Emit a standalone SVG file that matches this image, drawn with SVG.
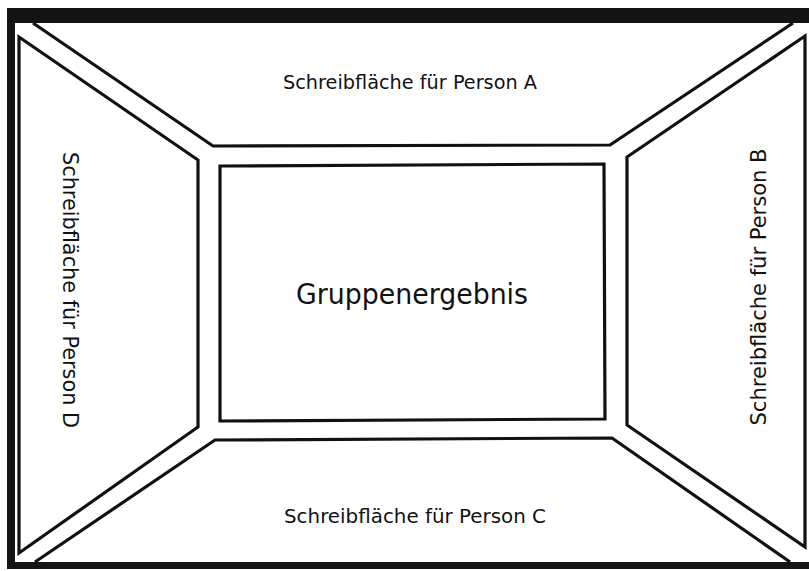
<svg xmlns="http://www.w3.org/2000/svg" width="809" height="571" viewBox="0 0 809 571">
<style>
.area{fill:#fff;stroke:#111;stroke-width:3.2;stroke-linejoin:miter}
.lbl{font-family:"DejaVu Sans","Liberation Sans",sans-serif;font-size:19px;fill:#111;text-anchor:middle}
.big{font-size:28px}
</style>
<rect x="0" y="0" width="809" height="571" fill="#fff"/>
<g id="frame">
<path d="M7,8H809V23H15V562H809V569H7Z" fill="#141414"/>
</g>
<g id="person-a">
<polyline class="area" points="33,23 213,146 610,145 793,23"/>
<text class="lbl" x="410" y="89" textLength="254" lengthAdjust="spacingAndGlyphs">Schreibfläche für Person A</text>
</g>
<g id="person-b">
<polygon class="area" points="805,36 627,157 627,425 805,547"/>
<text class="lbl" transform="translate(766,287) rotate(-90)" style="font-size:20.5px" textLength="277" lengthAdjust="spacingAndGlyphs">Schreibfläche für Person B</text>
</g>
<g id="person-c">
<polyline class="area" points="35,562 215,440 612,438 790,562"/>
<text class="lbl" x="415" y="523" textLength="262" lengthAdjust="spacingAndGlyphs">Schreibfläche für Person C</text>
</g>
<g id="person-d">
<polygon class="area" points="19,37 198,160 198,427 19,553"/>
<text class="lbl" transform="translate(63,290) rotate(90)" style="font-size:20.5px" textLength="276" lengthAdjust="spacingAndGlyphs">Schreibfläche für Person D</text>
</g>
<g id="gruppenergebnis">
<polygon class="area" points="220,166 604,164 605,419 220,421"/>
<text class="lbl big" x="412" y="304" textLength="232" lengthAdjust="spacingAndGlyphs">Gruppenergebnis</text>
</g>
</svg>
